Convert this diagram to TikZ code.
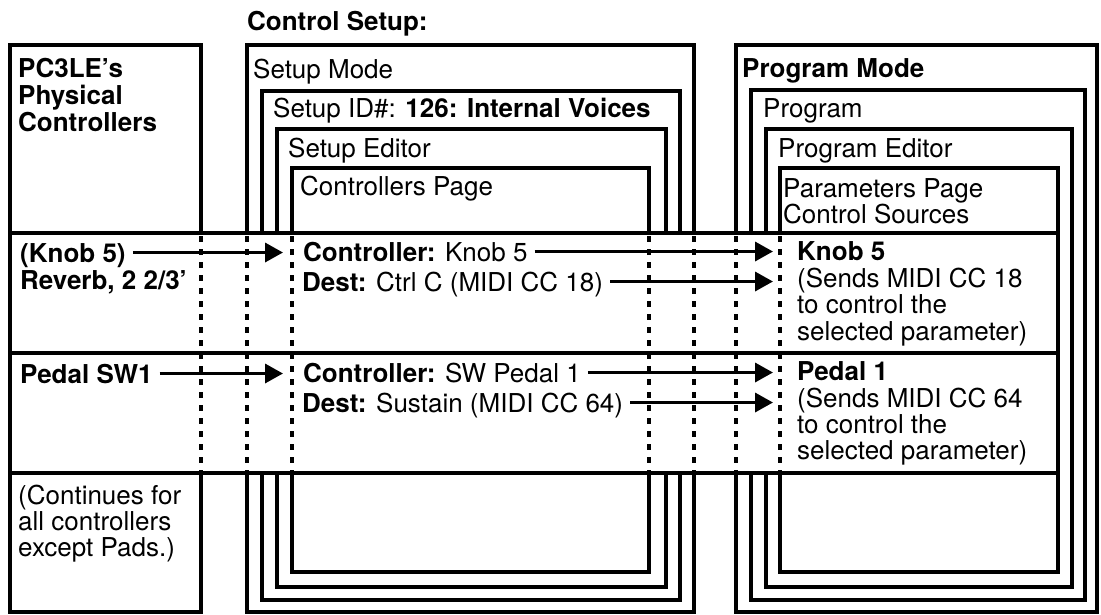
\documentclass[tikz,border=0pt]{standalone}
\usepackage{fontspec}
\setmainfont{TeX Gyre Heros}
\usetikzlibrary{arrows.meta,calc}
\begin{document}
\begin{tikzpicture}[x=1pt,y=-1pt,
  box/.style={draw=black,line width=3.9pt},
  band/.style={draw=black,fill=white,line width=3.9pt},
  dots/.style={draw=black,line width=3.8pt,dash pattern=on 5.5pt off 7.5pt},
  txt/.style={anchor=base west,inner sep=0pt,font=\fontsize{26}{28}\selectfont},
  arr/.style={draw=black,line width=3.5pt,-{Triangle[length=18pt,width=19pt]}}
]
\useasboundingbox (0,0) rectangle (1101,614);
% outer boxes
\draw[box] (10,45) rectangle (201,612);
\draw[box] (247,45) rectangle (694,612);
\draw[box] (262,91) rectangle (680,600);
\draw[box] (277,129) rectangle (666,587);
\draw[box] (292,168) rectangle (649,572);
\draw[box] (736,45) rectangle (1097,612);
\draw[box] (751,90) rectangle (1085,600);
\draw[box] (766,129) rectangle (1072,587);
\draw[box] (780,168) rectangle (1058,572);
% band
\draw[band] (10,233) rectangle (1058,473);
\draw[box] (10,353) -- (1058,353);
\foreach \x in {201,247,292,649,694,736,780}{
  \draw[dots] (\x,236) -- (\x,471);
}
% texts
\node[txt] (title) at (247,30) {\textbf{Control Setup:}};
\node[txt] (pc1) at (18,77) {\textbf{PC3LE’s}};
\node[txt] (pc2) at (18,104) {\textbf{Physical}};
\node[txt] (pc3) at (18,131) {\textbf{Controllers}};
\node[txt] (sm) at (253,78) {Setup Mode};
\node[txt] (sid) at (273,117) {Setup ID\#: \textbf{126: Internal Voices}};
\node[txt] (sed) at (288,157) {Setup Editor};
\node[txt] (cp) at (300,195) {Controllers Page};
\node[txt] (pm) at (742,77) {\textbf{Program Mode}};
\node[txt] (pg) at (763,117) {Program};
\node[txt] (ped) at (778,157) {Program Editor};
\node[txt] (pp1) at (783,197) {Parameters Page};
\node[txt] (pp2) at (783,223) {Control Sources};
% band 1
\node[txt] (kl) at (20,262) {\textbf{(Knob 5)}};
\node[txt] (rv) at (20,289) {\textbf{Reverb, 2 2/3’}};
\node[txt] (ck) at (303,261) {\textbf{Controller:} Knob 5};
\node[txt] (dk) at (302,291) {\textbf{Dest:} Ctrl C (MIDI CC 18)};
\node[txt] (rk1) at (797,260) {\textbf{Knob 5}};
\node[txt] (rk2) at (797,287) {(Sends MIDI CC 18};
\node[txt] (rk3) at (797,313) {to control the};
\node[txt] (rk4) at (797,340) {selected parameter)};
% band 2
\node[txt] (ps) at (20,383) {\textbf{Pedal SW1}};
\node[txt] (cs) at (303,382) {\textbf{Controller:} SW Pedal 1};
\node[txt] (ds) at (302,412) {\textbf{Dest:} Sustain (MIDI CC 64)};
\node[txt] (rp1) at (797,380) {\textbf{Pedal 1}};
\node[txt] (rp2) at (797,407) {(Sends MIDI CC 64};
\node[txt] (rp3) at (797,433) {to control the};
\node[txt] (rp4) at (797,459) {selected parameter)};
% bottom left
\node[txt] (co1) at (18,504) {(Continues for};
\node[txt] (co2) at (18,530) {all controllers};
\node[txt] (co3) at (18,556) {except Pads.)};
% arrows
\coordinate (tipL) at (283,0);
\coordinate (tipR) at (773,0);
\draw[arr] ($(kl.base east)+(7,-9.5)$) -- ($(kl.base -| tipL)+(0,-9.5)$);
\draw[arr] ($(ps.base east)+(7,-9.5)$) -- ($(ps.base -| tipL)+(0,-9.5)$);
\draw[arr] ($(ck.base east)+(7,-9.5)$) -- ($(ck.base -| tipR)+(0,-9.5)$);
\draw[arr] ($(dk.base east)+(7,-9.5)$) -- ($(dk.base -| tipR)+(0,-9.5)$);
\draw[arr] ($(cs.base east)+(7,-9.5)$) -- ($(cs.base -| tipR)+(0,-9.5)$);
\draw[arr] ($(ds.base east)+(7,-9.5)$) -- ($(ds.base -| tipR)+(0,-9.5)$);
\end{tikzpicture}
\end{document}
